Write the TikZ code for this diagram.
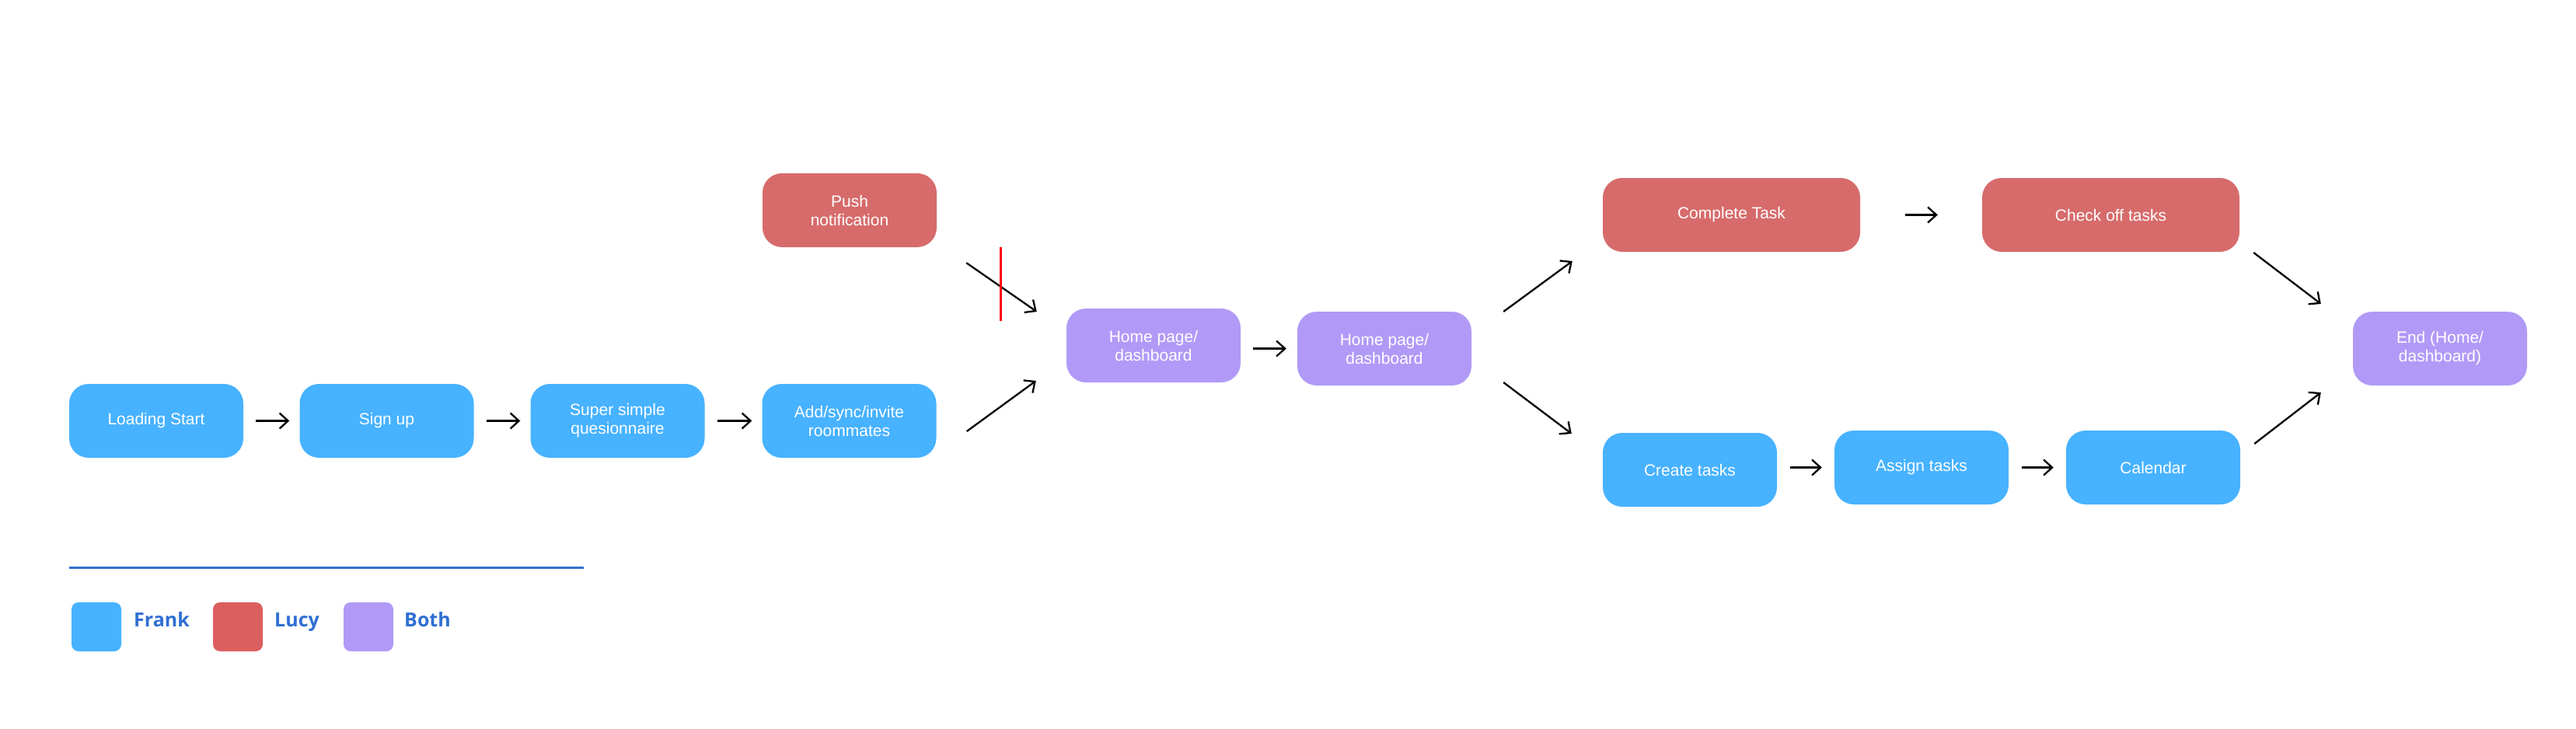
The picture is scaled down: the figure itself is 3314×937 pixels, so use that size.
\documentclass[tikz,border=0pt]{standalone}
\usepackage{fontspec}
\setmainfont{Liberation Sans}
\newfontfamily\legendfont{Open Sans}
\usetikzlibrary{arrows.meta,calc}
\definecolor{frankblue}{HTML}{47B2FF}
\definecolor{lucyred}{HTML}{D76B6B}
\definecolor{legred}{HTML}{DC5F5F}
\definecolor{bothpurple}{HTML}{B19AF7}
\definecolor{legtext}{HTML}{2F6FD3}
\definecolor{legline}{HTML}{3570D0}
\begin{document}
\begin{tikzpicture}[x=1pt,y=-1pt,
  box/.style={rounded corners=25pt, minimum width=224pt, minimum height=95pt, inner sep=0pt, text=white, align=center, font=\fontsize{21}{24}\selectfont},
  frank/.style={box, fill=frankblue},
  lucy/.style={box, fill=lucyred},
  both/.style={box, fill=bothpurple},
  wide/.style={minimum width=331pt},
  arr/.style={line width=2.3pt, -{Straight Barb[length=11pt,width=20pt]}},
  legsq/.style={rounded corners=9pt, minimum width=64pt, minimum height=63pt, inner sep=0pt},
  legtxt/.style={anchor=base west, inner sep=0pt, text=legtext, font=\legendfont\bfseries\fontsize{25}{30}\selectfont}]
\useasboundingbox (0,0) rectangle (3314,937);
% nodes
\node[frank] (load) at (201,541.5) {Loading Start};
\node[frank] (signup) at (497.5,541.5) {Sign up};
\node[frank] (quest) at (794.5,541.5) {Super simple\\quesionnaire};
\node[frank] (add) at (1092.5,541.5) {Add/sync/invite\\roommates};
\node[lucy] (push) at (1093,270.5) {Push\\notification};
\node[both] (home1) at (1484,444.5) {Home page/\\dashboard};
\node[both] (home2) at (1781,448.5) {Home page/\\dashboard};
\node[lucy,wide] (complete) at (2227.5,276.5) {Complete Task};
\node[lucy,wide] (check) at (2715.5,276.5) {Check off tasks};
\node[frank] (create) at (2174,604.5) {Create tasks};
\node[frank] (assign) at (2472,601.5) {Assign tasks};
\node[frank] (calendar) at (2770,601.5) {Calendar};
\node[both] (end) at (3139,448.5) {End (Home/\\dashboard)};
% horizontal connectors
\draw[arr, shorten <=16pt, shorten >=13pt] (load.east) -- (signup.west);
\draw[arr, shorten <=16pt, shorten >=13pt] (signup.east) -- (quest.west);
\draw[arr, shorten <=16pt, shorten >=13pt] (quest.east) -- (add.west);
\draw[arr, shorten <=16pt, shorten >=14pt] (home1.east |- home2.west) -- (home2.west);
\draw[arr, shorten <=58pt, shorten >=57pt] (complete.east) -- (check.west);
\draw[arr, shorten <=17pt, shorten >=16pt] (create.east |- assign.west) -- (assign.west);
\draw[arr, shorten <=17pt, shorten >=16pt] (assign.east) -- (calendar.west);
% diagonal connectors
\draw[arr] ($(push.south east)+(38,20)$) -- ($(home1.west)+(-38,-43.5)$);
\draw[arr] ($(add.east)+(39,13.5)$) -- ($(home1.west)+(-39,45.5)$);
\draw[arr] ($(home2.east)+(41,-47.5)$) -- ($(complete.west)+(-39,59.5)$);
\draw[arr] ($(home2.east)+(41,43.5)$) -- ($(create.west)+(-40,-46.5)$);
\draw[arr] ($(check.east)+(18,48.5)$) -- ($(end.west)+(-41,-57.5)$);
\draw[arr] ($(calendar.east)+(18,-30.5)$) -- ($(end.west)+(-41,56.5)$);
% red cross-out
\draw[red, line width=3pt] ($(push.south east)+(82,0)$) -- ($(push.south east)+(82,95)$);
% legend
\draw[legline, line width=3pt] (89,730) -- (751,730);
\node[legsq, fill=frankblue] (lfrank) at (124,806.5) {};
\node[legsq, fill=legred] (llucy) at (306,806.5) {};
\node[legsq, fill=bothpurple] (lboth) at (474,806.5) {};
\node[legtxt] (tfrank) at (172,806) {Frank};
\node[legtxt] (tlucy) at (353,806) {Lucy};
\node[legtxt] (tboth) at (520,806) {Both};
\end{tikzpicture}
\end{document}
